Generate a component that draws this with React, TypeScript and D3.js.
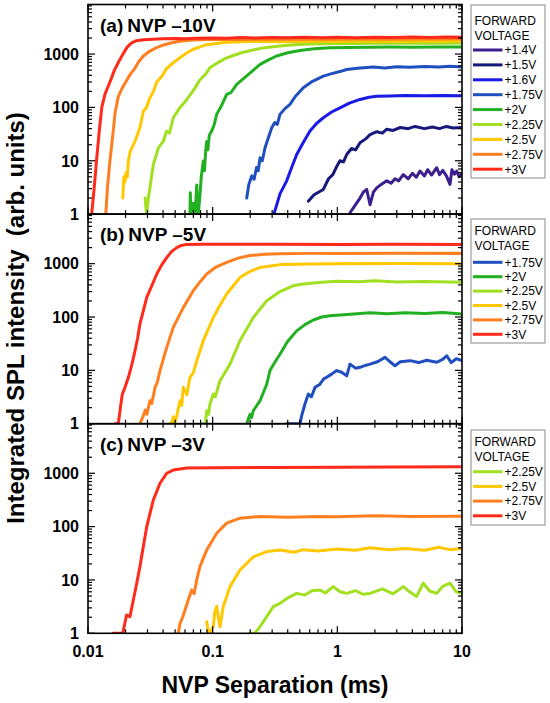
import * as d3 from 'd3';

type Pt = [number, number];

// ---- panel (a) NVP -10V ----
const a14: Pt[] = [[1.264,1.06],[1.4,1.5],[1.52,2.0],[1.62,2.6],[1.72,2.9],[1.83,1.5],[1.95,2.6],[2.07,3.1],[2.25,3.6],[2.49,4.2],[2.7,3.8],[2.9,4.6],[3.1,4.2],[3.38,5.5],[3.7,4.6],[4.0,5.8],[4.3,4.9],[4.6,6.4],[5.0,5.2],[5.3,6.8],[5.7,5.4],[6.27,7.4],[6.6,5.5],[7.0,6.6],[7.5,5.2],[8.01,3.6],[8.3,6.8],[8.7,5.6],[9.06,6.4],[9.5,5],[10,5.8]];
const a15: Pt[] = [[0.585,1.75],[0.65,2.3],[0.772,2.9],[0.85,4.6],[0.92,5.5],[0.9886,7.8],[1.05,10],[1.12,9.5],[1.189,13.1],[1.3,17],[1.4,16],[1.52,21.8],[1.7,26],[1.83,31],[2.07,35],[2.3,33],[2.49,39],[2.8,37],[3.2,42],[3.7,40],[4.2,44],[5,40],[5.8,43],[6.6,40],[7.5,44],[8.5,41],[10,42]];
const a16: Pt[] = [[0.31,1],[0.3467,2.4],[0.3925,4.2],[0.43,7.5],[0.472,13.1],[0.533,22],[0.6035,36],[0.68,50],[0.772,64],[0.9,82],[1.05,98],[1.25,120],[1.52,141],[1.8,155],[2.07,162],[2.65,164],[3.5,168],[5,165],[7,168],[10,166]];
const a175: Pt[] = [[0.1876,2],[0.195,3.6],[0.2057,5.2],[0.215,4.5],[0.225,7.5],[0.232,6.5],[0.24,11.4],[0.25,10],[0.263,17.5],[0.275,24],[0.2975,41.5],[0.315,52],[0.33,48],[0.3467,74],[0.38,95],[0.417,114],[0.46,160],[0.533,233],[0.62,300],[0.772,387],[0.9,430],[1.05,470],[1.189,515],[1.45,540],[1.943,570],[2.4,550],[3,580],[3.8,565],[5,585],[6.5,570],[8,590],[10,575]];
const a20: Pt[] = [[0.0657,1],[0.0662,2.5],[0.0668,1],[0.07,1.6],[0.0725,1],[0.0745,3.5],[0.0757,1],[0.0767,1],[0.0791,2.3],[0.081,5],[0.0841,9.9],[0.086,6.5],[0.0878,15],[0.0896,23],[0.0915,16],[0.094,30],[0.0982,36],[0.103,48],[0.1077,74],[0.117,105],[0.1296,176],[0.14,190],[0.156,270],[0.17,320],[0.1876,390],[0.21,490],[0.24,640],[0.28,780],[0.326,920],[0.4,1060],[0.502,1170],[0.65,1260],[0.873,1310],[1.2,1330],[1.8,1340],[2.65,1350],[4,1340],[6,1360],[10,1350]];
const a225: Pt[] = [[0.0287,2],[0.0295,1],[0.0305,2],[0.0314,3.1],[0.0334,8.5],[0.035,12],[0.0367,17.5],[0.0401,23],[0.0428,36],[0.045,33],[0.0483,64],[0.0547,100],[0.0605,130],[0.0658,170],[0.072,230],[0.079,330],[0.088,420],[0.0952,560],[0.11,690],[0.125,820],[0.146,940],[0.17,1060],[0.212,1200],[0.26,1320],[0.3467,1420],[0.45,1500],[0.6,1550],[0.8,1570],[1,1590],[1.5,1580],[2.2,1610],[3.2,1590],[5,1620],[7,1600],[10,1610]];
const a25: Pt[] = [[0.019,2],[0.0194,5],[0.0198,4],[0.0202,6],[0.0207,5],[0.0211,10],[0.0218,15],[0.0238,23],[0.0261,42],[0.0278,85],[0.0295,100],[0.0314,152],[0.0335,200],[0.0356,300],[0.039,380],[0.0428,540],[0.048,680],[0.0547,860],[0.062,1050],[0.0699,1230],[0.08,1380],[0.0896,1500],[0.11,1600],[0.13,1660],[0.17,1700],[0.25,1720],[0.4,1700],[0.6,1740],[1,1720],[1.6,1750],[2.5,1730],[4,1760],[6,1740],[10,1760]];
const a275: Pt[] = [[0.0139,1],[0.0143,3],[0.015,10],[0.0158,30],[0.0165,80],[0.0175,160],[0.0188,230],[0.0204,320],[0.022,430],[0.0235,520],[0.0255,720],[0.0278,920],[0.031,1120],[0.0355,1320],[0.041,1500],[0.048,1650],[0.056,1760],[0.07,1830],[0.09,1870],[0.12,1890],[0.17,1870],[0.25,1910],[0.4,1890],[0.6,1920],[1,1900],[1.6,1930],[2.5,1900],[4,1930],[6,1910],[10,1930]];
const a30: Pt[] = [[0.0107,1],[0.0112,3],[0.0117,10],[0.0123,35],[0.0129,100],[0.0137,180],[0.015,300],[0.0163,500],[0.0178,750],[0.0191,1000],[0.0206,1350],[0.0224,1620],[0.0245,1780],[0.028,1860],[0.033,1900],[0.04,1930],[0.05,1960],[0.06,1940],[0.075,1990],[0.1,2010],[0.13,1980],[0.17,2040],[0.22,2010],[0.3,2050],[0.4,2020],[0.55,2060],[0.75,2030],[1,2070],[1.4,2030],[2,2060],[2.8,2040],[4,2080],[5.5,2040],[7.5,2080],[10,2060]];

// ---- panel (b) NVP -5V ----
const b175: Pt[] = [[0.3925,1],[0.45,1],[0.502,1],[0.517,1.4],[0.55,2.34],[0.585,3.6],[0.62,3.2],[0.662,4.8],[0.726,5.5],[0.78,7],[0.821,7.4],[0.9,8.5],[0.9886,9.9],[1.082,9.2],[1.189,7.9],[1.264,13.1],[1.4,11],[1.52,11.4],[1.7,12.5],[1.83,13.1],[2.1,14.5],[2.41,17.5],[2.6,15],[2.9,12.2],[3.2,14.5],[3.83,15.2],[4.5,14],[5.2,15.5],[6.27,14.2],[7,16],[7.54,18.8],[8.2,14],[9,16.5],[10,15.2]];
const b20: Pt[] = [[0.1876,1],[0.1992,1.5],[0.205,1.3],[0.2119,1.75],[0.24,2.7],[0.2714,5.5],[0.288,9.9],[0.32,15],[0.3467,20],[0.4,35],[0.472,55],[0.55,72],[0.642,88],[0.75,100],[0.873,106],[1.2,112],[1.83,120],[2.5,115],[3.5,120],[5,116],[7,121],[10,114]];
const b225: Pt[] = [[0.0815,1],[0.0875,1],[0.0896,1.75],[0.0925,1.5],[0.0952,2.34],[0.1012,3.6],[0.105,3.2],[0.1145,6.4],[0.1377,13.1],[0.1656,36],[0.2119,98],[0.2714,202],[0.3467,300],[0.45,390],[0.533,415],[0.75,450],[0.9886,470],[1.5,460],[2,480],[3,455],[5,465],[10,450]];
const b25: Pt[] = [[0.0455,1],[0.0475,1.1],[0.0483,1.35],[0.0495,1],[0.0515,1.4],[0.0547,2.7],[0.0565,2.2],[0.0581,4.8],[0.062,3.5],[0.0658,7.4],[0.07,9],[0.0745,15.2],[0.0841,36],[0.1012,98],[0.115,170],[0.1296,270],[0.1656,550],[0.2,720],[0.24,850],[0.3467,960],[0.6,990],[1,1000],[3,1010],[10,1000]];
const b275: Pt[] = [[0.0261,1],[0.02777,1.4],[0.0288,1.8],[0.0296,1.5],[0.03144,2.7],[0.0325,2.4],[0.0345,4.8],[0.036,6],[0.0378,9.9],[0.0428,27],[0.0483,64],[0.0581,150],[0.0699,312],[0.08,470],[0.0896,640],[0.105,850],[0.1296,1060],[0.16,1270],[0.1992,1420],[0.26,1500],[0.3467,1540],[0.6,1560],[1,1560],[3,1570],[10,1560]];
const b30: Pt[] = [[0.01646,1],[0.0175,1],[0.0182,2],[0.0188,3.5],[0.0198,4.8],[0.0211,7.4],[0.0225,13],[0.0238,23],[0.025,40],[0.0261,74],[0.028,140],[0.0296,234],[0.033,420],[0.0356,640],[0.039,950],[0.0428,1300],[0.047,1700],[0.0515,2000],[0.056,2200],[0.0619,2300],[0.08,2320],[0.15,2310],[0.3,2320],[1,2300],[3,2320],[10,2300]];

// ---- panel (c) NVP -3V ----
const c225: Pt[] = [[0.1992,1],[0.218,1],[0.24,1.33],[0.2714,2.05],[0.3066,3.16],[0.3467,3.65],[0.4,4.6],[0.472,5.6],[0.55,5.2],[0.626,6.3],[0.726,6.5],[0.8,5.7],[0.9265,7.5],[1.05,6],[1.189,5.6],[1.4,6.3],[1.6,5.4],[1.83,5.6],[2.3,6.8],[2.8,5.5],[3.38,7.5],[3.8,6],[4.32,4.9],[4.89,8.7],[5.5,6.2],[6.27,5.6],[7,7.6],[8.01,8.7],[9,6],[10,5.6]];
const c25: Pt[] = [[0.0896,1.65],[0.0926,1],[0.0965,1.1],[0.1012,1.33],[0.104,2.5],[0.1077,3.2],[0.111,2],[0.1145,1.33],[0.1218,3.2],[0.1377,7.5],[0.1656,15.4],[0.2119,27],[0.2714,34],[0.3467,36.6],[0.45,33],[0.533,37],[0.7,35],[1,38],[1.4,36],[1.83,40],[2.6,37],[3.5,39],[5,36],[6.5,41],[8,37],[10,39]];
const c275: Pt[] = [[0.053,1],[0.0547,1.54],[0.0575,2],[0.06,2.74],[0.0637,4.2],[0.0679,6.5],[0.071,5.5],[0.0745,10],[0.0791,17.8],[0.0896,36.6],[0.1077,75],[0.1296,116],[0.1656,144],[0.24,155],[0.4,150],[0.7,155],[1,153],[2,160],[4,155],[10,157]];
const c30: Pt[] = [[0.0159,1],[0.019,1],[0.0204,2.2],[0.0217,2.05],[0.0231,4.2],[0.0246,8.7],[0.0261,17.8],[0.02777,42],[0.0296,100],[0.0334,315],[0.0378,650],[0.0428,1000],[0.0483,1150],[0.0619,1250],[0.1,1270],[0.3,1290],[1,1300],[3,1310],[10,1320]];

const xTickLabels = ['0.01', '0.1', '1', '10'];
const yTickLabels = ['1', '10', '100', '1000'];

const COLORS: Record<string, string> = {
  '+1.4V': '#3b1f8e',
  '+1.5V': '#17197a',
  '+1.6V': '#1a1ae6',
  '+1.75V': '#1f4fbf',
  '+2V': '#22b022',
  '+2.25V': '#a0e020',
  '+2.5V': '#ffc800',
  '+2.75V': '#ff7f20',
  '+3V': '#ff2a1a',
};

const FONT = "'Liberation Sans', Arial, Helvetica, sans-serif";
const X0 = 88;
const X1 = 462;
const PH = 209.6;
const TOPS = [4.5, 214.1, 423.7];
const YMAX = 8500;

const panels = [
  {
    tag: '(a)', title: 'NVP \u201310V',
    series: [['+1.4V', a14], ['+1.5V', a15], ['+1.6V', a16], ['+1.75V', a175], ['+2V', a20], ['+2.25V', a225], ['+2.5V', a25], ['+2.75V', a275], ['+3V', a30]] as [string, Pt[]][],
    legend: { top: 5, bottom: 178, head: 25, first: 50, step: 14.9 },
  },
  {
    tag: '(b)', title: 'NVP \u20135V',
    series: [['+1.75V', b175], ['+2V', b20], ['+2.25V', b225], ['+2.5V', b25], ['+2.75V', b275], ['+3V', b30]] as [string, Pt[]][],
    legend: { top: 219, bottom: 343, head: 235, first: 262.3, step: 14.4 },
  },
  {
    tag: '(c)', title: 'NVP \u20133V',
    series: [['+2.25V', c225], ['+2.5V', c25], ['+2.75V', c275], ['+3V', c30]] as [string, Pt[]][],
    legend: { top: 430, bottom: 525, head: 446, first: 471.7, step: 14.7 },
  },
];

export default function App() {
  const x = d3.scaleLog().domain([0.01, 10]).range([X0, X1]);
  const xt = x.ticks();

  return (
    <svg width={550} height={703} style={{ position: 'absolute', left: 0, top: 0, background: '#fff' }}
      fontFamily={FONT}>
      <rect width={550} height={703} fill="#fff" />
      {panels.map((p, i) => {
        const top = TOPS[i];
        const bot = top + PH;
        const y = d3.scaleLog().domain([1, YMAX]).range([bot, top]);
        const yt = y.ticks();
        const line = d3.line<Pt>().x(d => x(d[0])).y(d => y(d[1]));
        const isMajor = (v: number) => Math.abs(Math.log10(v) - Math.round(Math.log10(v))) < 1e-6;
        const lg = p.legend;
        return (
          <g key={i}>
            <defs>
              <clipPath id={`clip${i}`}>
                <rect x={X0} y={top} width={X1 - X0} height={PH} />
              </clipPath>
            </defs>
            <g clipPath={`url(#clip${i})`}>
              {p.series.map(([name, pts]) => (
                <path key={name} d={line(pts) || ''} fill="none" stroke={COLORS[name]}
                  strokeWidth={3} strokeLinejoin="round" strokeLinecap="round" />
              ))}
            </g>
            {/* ticks */}
            {xt.map((v, k) => {
              const len = isMajor(v) ? 7 : 4;
              return (
                <g key={'xt' + k} stroke="#000" strokeWidth={1.2}>
                  <line x1={x(v)} x2={x(v)} y1={bot} y2={bot - len} />
                  <line x1={x(v)} x2={x(v)} y1={top} y2={top + len} />
                </g>
              );
            })}
            {yt.map((v, k) => {
              const len = isMajor(v) ? 7 : 4;
              return (
                <g key={'yt' + k} stroke="#000" strokeWidth={1.2}>
                  <line x1={X0} x2={X0 + len} y1={y(v)} y2={y(v)} />
                  <line x1={X1} x2={X1 - len} y1={y(v)} y2={y(v)} />
                </g>
              );
            })}
            <rect x={X0} y={top} width={X1 - X0} height={PH} fill="none" stroke="#000" strokeWidth={1.6} />
            {yTickLabels.map(t => (
              <text key={t} x={79} y={y(+t)} dy="0.36em" textAnchor="end" fontSize={16} fontWeight="bold">{t}</text>
            ))}
            <text x={100} y={top + 27} fontSize={19} fontWeight="bold">
              {p.tag}<tspan dx={4}>{p.title}</tspan>
            </text>
            {/* legend */}
            <rect x={471} y={lg.top} width={74} height={lg.bottom - lg.top} fill="#fff" stroke="#8a8a8a" strokeWidth={1} />
            <text x={474.5} y={lg.head} fontSize={12}>FORWARD</text>
            <text x={474.5} y={lg.head + 15} fontSize={12}>VOLTAGE</text>
            {p.series.map(([name], k) => {
              const ly = lg.first + k * lg.step;
              return (
                <g key={'lg' + name}>
                  <line x1={473} x2={502.5} y1={ly} y2={ly} stroke={COLORS[name]} strokeWidth={3} />
                  <text x={504.5} y={ly + 4.3} fontSize={12}>{name}</text>
                </g>
              );
            })}
          </g>
        );
      })}
      {xTickLabels.map(t => (
        <text key={t} x={x(+t)} y={657} textAnchor="middle" fontSize={16} fontWeight="bold">{t}</text>
      ))}
      <text x={275} y={693} textAnchor="middle" fontSize={23} fontWeight="bold">NVP Separation (ms)</text>
      <text transform="translate(24,318) rotate(-90)" textAnchor="middle" fontSize={24} fontWeight="bold"
        style={{ whiteSpace: 'pre' }}>Integrated SPL intensity  (arb. units)</text>
    </svg>
  );
}
